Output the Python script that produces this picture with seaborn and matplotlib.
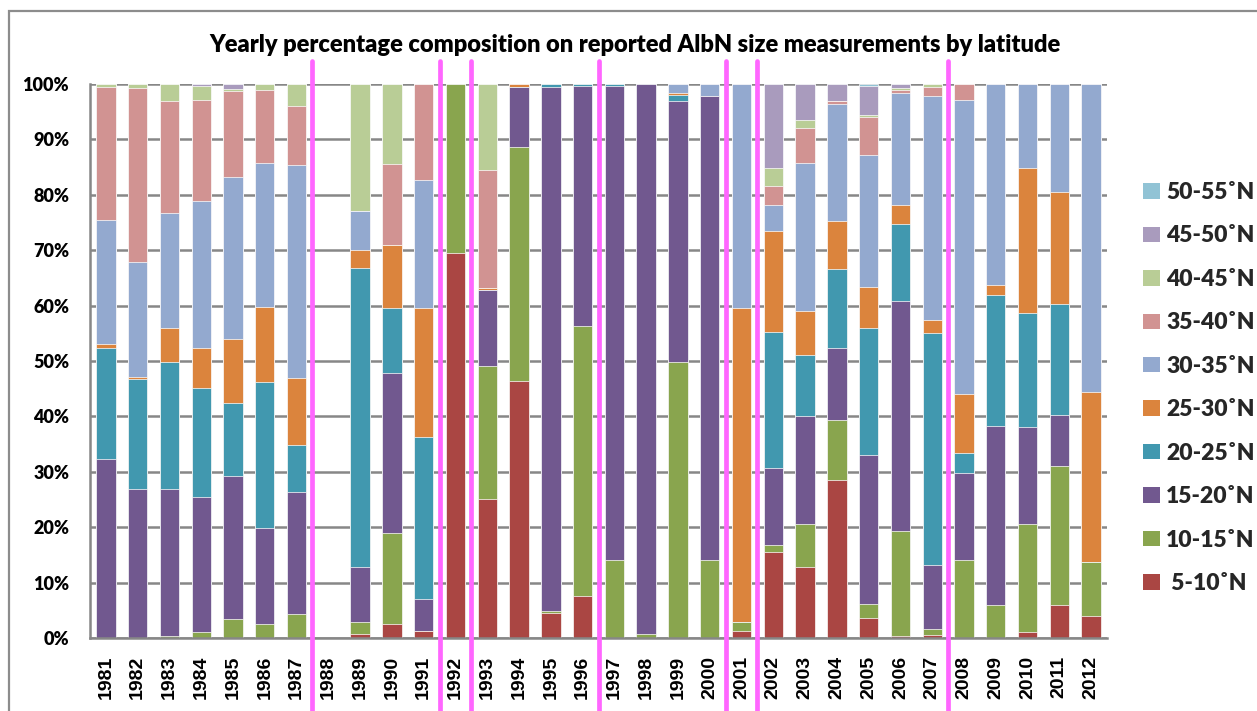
import numpy as np
import pandas as pd
import matplotlib
matplotlib.use("Agg")
import matplotlib.pyplot as plt
from matplotlib.patches import Patch, Rectangle
from matplotlib.ticker import PercentFormatter
import seaborn as sns

# ---------------- data ----------------
years = [str(y) for y in range(1981, 2013)]

lat_labels = ["5-10˚N", "10-15˚N", "15-20˚N", "20-25˚N", "25-30˚N",
              "30-35˚N", "35-40˚N", "40-45˚N", "45-50˚N", "50-55˚N"]

v_05_10 = [0, 0, 0, 0, 0, 0, 0, 0, 0.8, 2.5, 1.3, 69.5, 25.1, 46.4, 4.5, 7.5,
           0, 0, 0, 0, 1.3, 15.5, 12.8, 28.6, 3.7, 0.3, 0.5, 0, 0, 1.1, 6.0, 4.0]
v_10_15 = [0, 0, 0.3, 1.1, 3.5, 2.6, 4.3, 0, 2.1, 16.5, 0, 30.5, 24.0, 42.2, 0.3, 48.8,
           14.0, 0.8, 49.8, 14.0, 1.5, 1.2, 7.7, 10.7, 2.5, 19.0, 1.2, 14.0, 6.0, 19.4, 25.1, 9.8]
v_15_20 = [32.3, 26.9, 26.6, 24.3, 25.7, 17.2, 22.0, 0, 10.0, 28.9, 5.8, 0, 13.7, 10.9, 94.7, 43.4,
           85.7, 99.2, 47.1, 83.9, 0, 13.9, 19.6, 13.1, 26.9, 41.6, 11.5, 15.7, 32.3, 17.5, 9.2, 0]
v_20_25 = [20.0, 19.8, 22.9, 19.8, 13.2, 26.4, 8.6, 0, 53.9, 11.6, 29.2, 0, 0, 0, 0.5, 0.3,
           0.3, 0, 1.2, 0, 0, 24.7, 10.9, 14.2, 22.9, 13.8, 41.9, 3.7, 23.7, 20.6, 20.0, 0]
v_25_30 = [0.8, 0.5, 6.2, 7.1, 11.5, 13.5, 12.1, 0, 3.2, 11.5, 23.2, 0, 0.3, 0.5, 0, 0,
           0, 0, 0.3, 0, 56.7, 18.2, 8.1, 8.7, 7.4, 3.5, 2.3, 10.7, 1.8, 26.2, 20.2, 30.6]
v_30_35 = [22.3, 20.6, 20.7, 26.5, 29.3, 26.0, 38.4, 0, 7.0, 0, 23.1, 0, 0, 0, 0, 0,
           0, 0, 1.6, 2.1, 40.5, 4.7, 26.6, 21.0, 23.7, 20.2, 40.5, 53.1, 36.2, 15.2, 19.5, 55.6]
v_35_40 = [24.1, 31.4, 20.3, 18.4, 15.5, 13.3, 10.7, 0, 0, 14.6, 17.4, 0, 21.4, 0, 0, 0,
           0, 0, 0, 0, 0, 3.4, 6.4, 0.6, 6.9, 0.6, 1.6, 2.8, 0, 0, 0, 0]
v_40_45 = [0.5, 0.8, 3.0, 2.5, 0.4, 1.0, 3.9, 0, 23.0, 14.4, 0, 0, 15.5, 0, 0, 0,
           0, 0, 0, 0, 0, 3.2, 1.4, 0, 0.4, 0.3, 0.5, 0, 0, 0, 0, 0]
v_45_50 = [0, 0, 0, 0.3, 0.9, 0, 0, 0, 0, 0, 0, 0, 0, 0, 0, 0,
           0, 0, 0, 0, 0, 15.2, 6.5, 3.1, 5.3, 0.7, 0, 0, 0, 0, 0, 0]
v_50_55 = [0, 0, 0, 0, 0, 0, 0, 0, 0, 0, 0, 0, 0, 0, 0, 0,
           0, 0, 0, 0, 0, 0, 0, 0, 0.3, 0, 0, 0, 0, 0, 0, 0]

series = [v_05_10, v_10_15, v_15_20, v_20_25, v_25_30,
          v_30_35, v_35_40, v_40_45, v_45_50, v_50_55]

colors = ["#AA4643", "#89A54E", "#71588F", "#4198AF", "#DB843D",
          "#93A9CF", "#D19392", "#B9CD96", "#A99BBD", "#91C3D5"]

# years after which a separator line is drawn
separator_after = ["1987", "1991", "1992", "1996", "2000", "2001", "2007"]

title = "Yearly percentage composition on reported AlbN size measurements by latitude"

# ---------------- build table ----------------
df = pd.DataFrame(dict(zip(lat_labels, series)), index=years)
tot = df.sum(axis=1).replace(0, np.nan)
pct = df.div(tot, axis=0).mul(100).fillna(0)
cum = pct.cumsum(axis=1)
cum["year"] = years

# ---------------- figure ----------------
sns.set_theme(style="white")
plt.rcParams["font.family"] = ["Lato", "DejaVu Sans"]

W, H = 1257, 711
fig = plt.figure(figsize=(W / 100, H / 100), dpi=100)
ax = fig.add_axes([90 / W, 1 - 638 / H, (1107 - 90) / W, (638 - 84) / H])

grid_c = "#878787"
for i in range(len(lat_labels) - 1, -1, -1):
    sns.barplot(data=cum, x="year", y=lat_labels[i], color=colors[i],
                saturation=1, width=0.61, errorbar=None, order=years,
                edgecolor="white", linewidth=0.5, ax=ax, zorder=2)

ax.set_xlim(-0.5, len(years) - 0.5)
ax.set_ylim(0, 100)
ax.set_yticks(np.arange(0, 101, 10))
ax.yaxis.set_major_formatter(PercentFormatter(decimals=0))
ax.set_axisbelow(True)
ax.grid(axis="y", color=grid_c, linewidth=1.8, zorder=0)
ax.grid(axis="x", visible=False)
ax.set_xlabel("")
ax.set_ylabel("")

for s in ["top", "right"]:
    ax.spines[s].set_visible(False)
for s in ["left", "bottom"]:
    ax.spines[s].set_color(grid_c)
    ax.spines[s].set_linewidth(1.8)

ax.tick_params(axis="y", length=3, width=1.6, color=grid_c, pad=12,
               labelsize=13)
ax.tick_params(axis="x", length=0, pad=13)
for lab in ax.get_yticklabels():
    lab.set_fontweight("heavy")
    lab.set_color("black")
for lab in ax.get_xticklabels():
    lab.set_rotation(90)
    lab.set_fontweight("bold")
    lab.set_fontsize(14)
    lab.set_family(["Liberation Sans", "DejaVu Sans"])
    lab.set_color("black")
    lab.set_va("top")

# separator lines
for yr in separator_after:
    xi = years.index(yr) + 0.5
    ax.axvline(xi, ymin=-(711 - 638) / 554 - 0.01, ymax=(638 - 61) / 554,
               color="#FF66FF", linewidth=3.4, clip_on=False, zorder=5)

# title
fig.text(635 / W, 1 - 45 / H, title, ha="center", va="center",
         fontsize=17, fontweight="heavy", color="black")

# legend
handles = [Patch(facecolor=colors[i], edgecolor="none", label=lat_labels[i] if i else " " + lat_labels[i])
           for i in range(len(lat_labels) - 1, -1, -1)]
leg = fig.legend(handles=handles, loc="center left",
                 bbox_to_anchor=(1143 / W, 1 - 388 / H), frameon=False,
                 prop={"size": 16.5, "weight": "heavy"},
                 handlelength=0.76, handleheight=0.66, handletextpad=0.25,
                 labelspacing=0.98, borderpad=0, borderaxespad=0)

# outer chart border
fig.patches.append(Rectangle((8.5 / W, -0.2), 1.5, 1 - 11 / H + 0.2,
                             transform=fig.transFigure, fill=False,
                             edgecolor="#8C8C8C", linewidth=1.6))

fig.savefig("out.png", dpi=100)
